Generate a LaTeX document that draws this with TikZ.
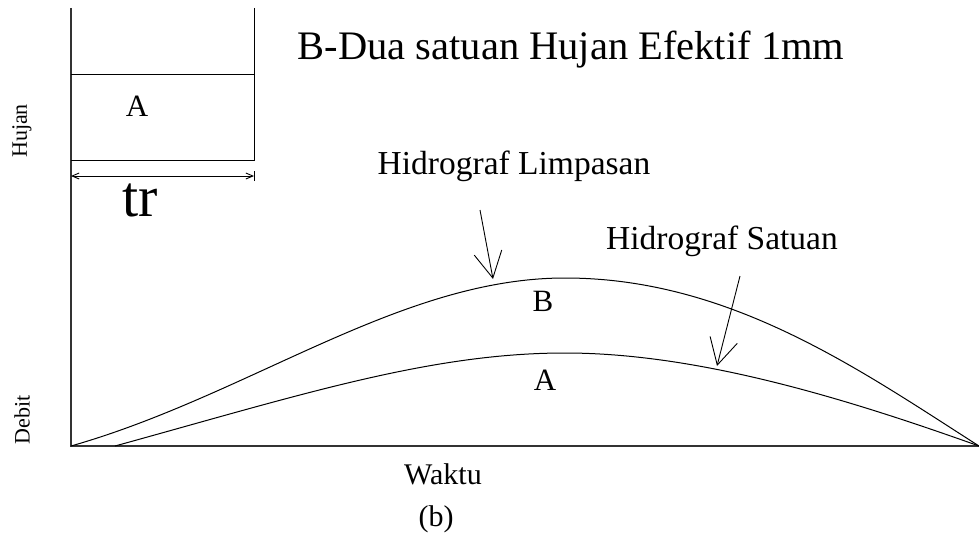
\documentclass[tikz,border=0pt]{standalone}
\usepackage{fontspec}
\setmainfont{Liberation Serif}
\usetikzlibrary{arrows.meta}

\begin{document}
\begin{tikzpicture}[
  x=1pt,
  y=-1pt,
  axis/.style={draw=black!80,line width=1.3pt},
  line/.style={draw=black,line width=0.9pt},
  curve/.style={draw=black,line width=1pt},
  pointer/.style={line,-{Straight Barb[length=26pt,width=28pt,line width=0.9pt]}},
  span/.style={line,{Straight Barb[length=7pt,width=6pt]}-{Straight Barb[length=7pt,width=6pt]}},
  lbl/.style={inner sep=0pt,font=\fontsize{31}{36}\selectfont},
  axlbl/.style={inner sep=0pt,rotate=90,font=\fontsize{22}{26}\selectfont}
]
\useasboundingbox (0,0) rectangle (979,535);

% ---------------------------------------------------------------- axes
\coordinate (top)    at (71,8);
\coordinate (origin) at (71,446);
\coordinate (xend)   at (979,446);
\draw[axis] (top) -- (origin) -- (xend);
\node[axlbl] (hujan) at (22,131) {Hujan};
\node[axlbl] (debit) at (22,420) {Debit};
\node[lbl,font=\fontsize{30}{34}\selectfont] (waktu) at (443,474) {Waktu};
\node[lbl,font=\fontsize{30}{34}\selectfont] (cap) at (436,519) {(b)};

% ---------------------------------------------------------------- rain block
\coordinate (rtop) at (254,8);
\coordinate (rbot) at (254,160);
\coordinate (lmid) at (71,74);
\coordinate (rmid) at (254,74);
\coordinate (lbot) at (71,160);
\draw[line] (rtop) -- (rbot) -- (lbot);
\draw[line] (lmid) -- (rmid);
\node[lbl] (blockA) at (137,106) {A};

% duration tr
\coordinate (trl) at (71,176);
\coordinate (trr) at (254,176);
\draw[span] (trl) -- (trr);
\draw[line] ([yshift=-5pt]trr) -- ([yshift=5pt]trr);
\node[lbl,font=\fontsize{58}{64}\selectfont] (tr) at (140,200) {tr};

\node[lbl,font=\fontsize{40.5}{46}\selectfont] (title) at (571,50) {B-Dua satuan Hujan Efektif 1mm};

% ---------------------------------------------------------------- hydrographs
\coordinate (startA) at (115,446);
\draw[curve] (origin) .. controls (250,395) and (400,278) .. (565,278)
                      .. controls (730,278) and (860,370) .. (xend);
\draw[curve] (startA) .. controls (300,395) and (430,353) .. (565,353)
                      .. controls (700,353) and (850,400) .. (xend);
\node[lbl] (curveB) at (543,301) {B};
\node[lbl] (curveA) at (545,380) {A};

% ---------------------------------------------------------------- pointers
\node[lbl,font=\fontsize{33.5}{38}\selectfont] (limpasan) at (514,166) {Hidrograf Limpasan};
\node[lbl,font=\fontsize{33.5}{38}\selectfont] (satuan) at (722,241) {Hidrograf Satuan};
\coordinate (p1s) at (480,210);
\coordinate (p1e) at (493,279);
\coordinate (p2s) at (740,276);
\coordinate (p2e) at (717,366);
\draw[pointer] (p1s) -- (p1e);
\draw[pointer] (p2s) -- (p2e);

\end{tikzpicture}
\end{document}
